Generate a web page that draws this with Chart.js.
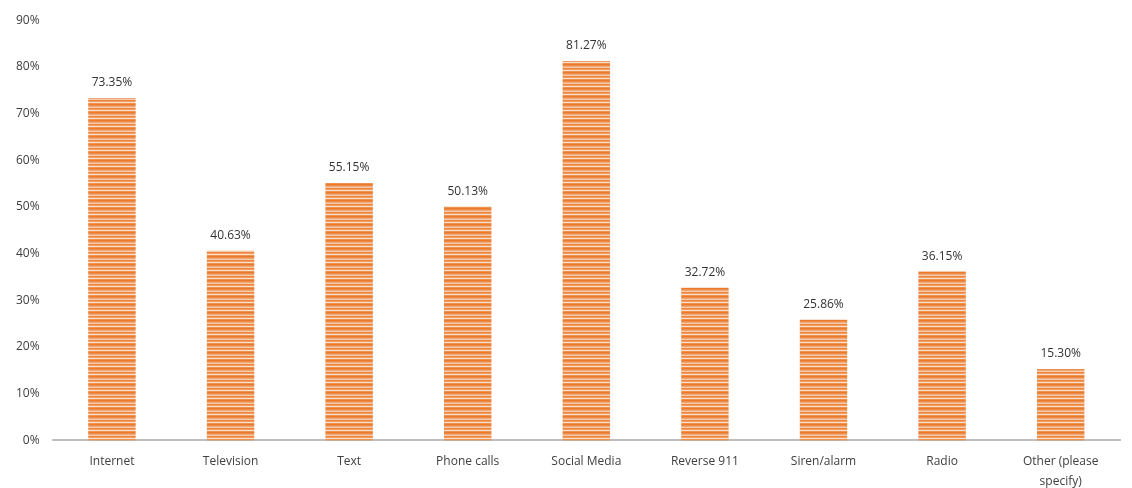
<!DOCTYPE html>
<html>
<head>
<meta charset="utf-8">
<script src="https://cdn.jsdelivr.net/npm/chart.js@4/dist/chart.umd.min.js"></script>
<style>
  html, body { margin: 0; padding: 0; background: #fff; }
  #wrap { width: 1132px; height: 488px; }
</style>
</head>
<body>
<div id="wrap"><canvas id="chart"></canvas></div>
<script>
const categories = ['Internet', 'Television', 'Text', 'Phone calls', 'Social Media', 'Reverse 911', 'Siren/alarm', 'Radio', ['Other (please', 'specify)']];
const values = [73.35, 40.63, 55.15, 50.13, 81.27, 32.72, 25.86, 36.15, 15.30];
const yTicks = [0, 10, 20, 30, 40, 50, 60, 70, 80, 90];

// striped fill like the original bars
const makeStripes = () => {
	const p = document.createElement('canvas');
	p.width = 4;
	p.height = 8;
	const c = p.getContext('2d');
	const rows = ['#EC7A2C', '#F08D4A', '#EBA878', '#F5CBAA', '#ED8540', '#F19D63', '#FADFC9', '#EE9252'];
	rows.forEach((col, i) => {
		c.fillStyle = col;
		c.fillRect(0, i, 4, 1);
	});
	return c.createPattern(p, 'repeat');
};

const valueLabels = {
	id: 'valueLabels',
	afterDatasetsDraw(chart) {
		const ctx = chart.ctx;
		const meta = chart.getDatasetMeta(0);
		ctx.save();
		ctx.font = '12px "Open Sans", sans-serif';
		ctx.fillStyle = '#333333';
		ctx.textAlign = 'center';
		ctx.textBaseline = 'bottom';
		meta.data.forEach((bar, i) => {
			ctx.fillText(values[i].toFixed(2) + '%', bar.x, bar.y - 9);
		});
		ctx.restore();
	}
};

new Chart(document.getElementById('chart'), {
	type: 'bar',
	data: {
		labels: categories,
		datasets: [
			{
				data: values,
				backgroundColor: makeStripes(),
				borderWidth: 0,
				barPercentage: 0.4,
				categoryPercentage: 1,
			},
		],
	},
	options: {
		responsive: true,
		maintainAspectRatio: false,
		animation: false,
		layout: {
			padding: { top: -1, right: 12, left: 3, bottom: -14 },
		},
		scales: {
			y: {
				min: 0,
				max: 90,
				afterBuildTicks: (axis) => {
					axis.ticks = yTicks.map((v) => ({ value: v }));
				},
				border: { display: false },
				grid: { display: false, drawTicks: false },
				ticks: {
					padding: 13,
					color: '#404040',
					font: { family: '"Open Sans", sans-serif', size: 12 },
					callback: (v) => v + '%',
				},
			},
			x: {
				border: { color: '#BFBFBF', width: 2 },
				grid: { display: false, drawTicks: false },
				ticks: {
					padding: 11,
					color: '#404040',
					maxRotation: 0,
					autoSkip: false,
					font: { family: '"Open Sans", sans-serif', size: 12, lineHeight: 1.65 },
				},
			},
		},
		plugins: {
			legend: { display: false },
			tooltip: { enabled: false },
		},
	},
	plugins: [valueLabels],
});
</script>
</body>
</html>
